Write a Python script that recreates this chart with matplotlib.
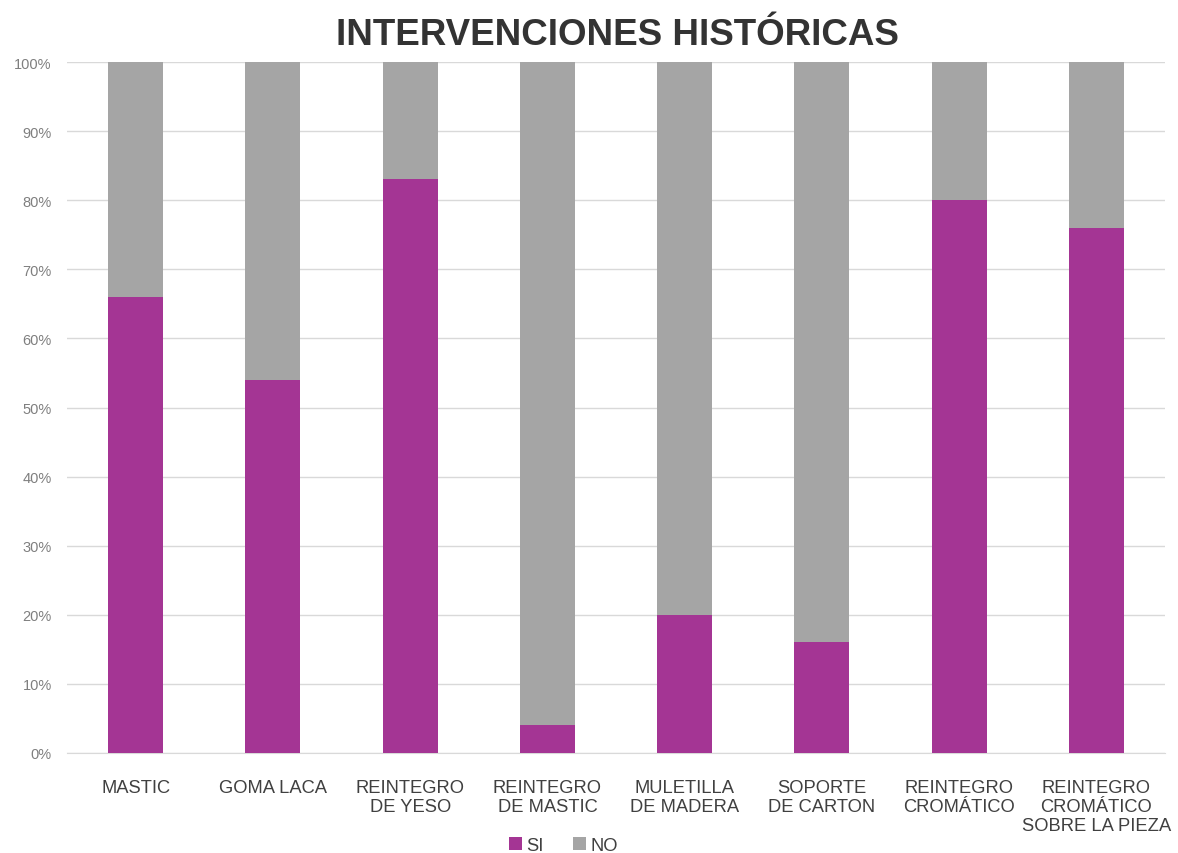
import matplotlib.pyplot as plt
import numpy as np
from matplotlib.ticker import FuncFormatter

plt.rcParams['font.family'] = ['Liberation Sans', 'DejaVu Sans']

categories = ["MASTIC", "GOMA LACA", "REINTEGRO\nDE YESO", "REINTEGRO\nDE MASTIC",
              "MULETILLA\nDE MADERA", "SOPORTE\nDE CARTON", "REINTEGRO\nCROMÁTICO",
              "REINTEGRO\nCROMÁTICO\nSOBRE LA PIEZA"]
si_values = [66, 54, 83, 4, 20, 16, 80, 76]
no_values = [100 - v for v in si_values]

SI_COLOR = "#A43594"
NO_COLOR = "#A5A5A5"

fig = plt.figure(figsize=(11.78, 8.54), dpi=100)
ax = fig.add_axes([0.0569, 0.1171, 0.9321, 0.8091])

x = np.arange(len(categories))
ax.bar(x, si_values, width=0.4, color=SI_COLOR, label="SI", zorder=3)
ax.bar(x, no_values, width=0.4, bottom=si_values, color=NO_COLOR, label="NO", zorder=3)

ax.set_xlim(-0.5, len(categories) - 0.5)
ax.set_ylim(0, 100)
ax.set_yticks(np.arange(0, 101, 10))
ax.yaxis.set_major_formatter(FuncFormatter(lambda v, p: f"{int(v)}%"))
ax.grid(axis='y', color="#D9D9D9", linewidth=1, zorder=0)
for s in ['top', 'right', 'left']:
    ax.spines[s].set_visible(False)
ax.spines['bottom'].set_color("#D9D9D9")
ax.tick_params(axis='y', length=0, labelsize=10.5, labelcolor="#7F7F7F", pad=11)
ax.tick_params(axis='x', length=0, labelsize=13.2, labelcolor="#404040", pad=19)
ax.set_xticks(x)
ax.set_xticklabels(categories, linespacing=1.12)

fig.text(0.524, 0.958, "INTERVENCIONES HISTÓRICAS", ha='center', va='center',
         fontsize=26.5, fontweight='bold', color="#333333")

fig.legend(loc='center', bbox_to_anchor=(0.478, 0.009), ncol=2, frameon=False,
           fontsize=13.2, handlelength=0.75, handleheight=0.75, handletextpad=0.2,
           columnspacing=1.6, labelcolor="#404040")

fig.savefig("out.png", dpi=100, facecolor="white")
